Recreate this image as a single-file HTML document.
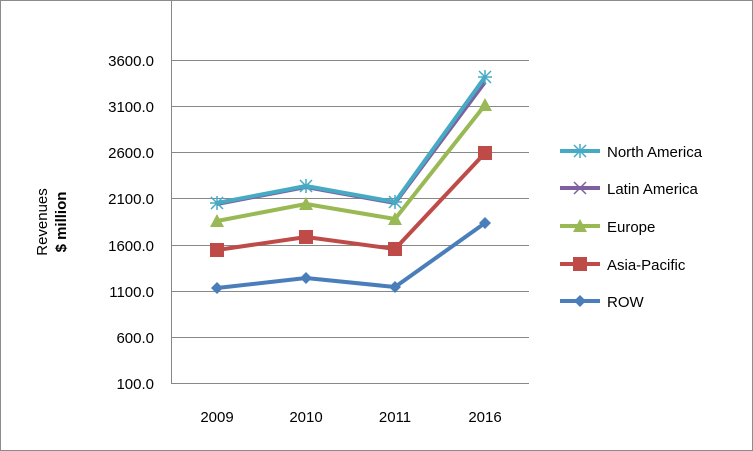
<!DOCTYPE html>
<html><head><style>
body{margin:0;background:#fff}
svg{display:block}
text{font-family:"Liberation Sans",sans-serif;fill:#000}
</style></head><body>
<svg width="753" height="451" viewBox="0 0 753 451">
<rect x="0.5" y="0.5" width="752" height="450" fill="#fff" stroke="#8c8c8c"/>
<g stroke="#888" stroke-width="1">
<line x1="171" y1="60.5" x2="529" y2="60.5"/>
<line x1="171" y1="106.5" x2="529" y2="106.5"/>
<line x1="171" y1="152.5" x2="529" y2="152.5"/>
<line x1="171" y1="198.5" x2="529" y2="198.5"/>
<line x1="171" y1="245.5" x2="529" y2="245.5"/>
<line x1="171" y1="291.5" x2="529" y2="291.5"/>
<line x1="171" y1="337.5" x2="529" y2="337.5"/>
<line x1="171" y1="383.5" x2="529" y2="383.5"/>
<line x1="171.5" y1="0" x2="171.5" y2="383"/>
</g>
<g font-size="15" text-anchor="end">
<text x="154" y="66">3600.0</text>
<text x="154" y="112">3100.0</text>
<text x="154" y="158">2600.0</text>
<text x="154" y="204">2100.0</text>
<text x="154" y="251">1600.0</text>
<text x="154" y="297">1100.0</text>
<text x="154" y="343">600.0</text>
<text x="154" y="389">100.0</text>
</g>
<g font-size="15" text-anchor="middle">
<text x="217" y="422">2009</text>
<text x="306" y="422">2010</text>
<text x="395" y="422">2011</text>
<text x="485" y="422">2016</text>
</g>
<text transform="translate(47,222) rotate(-90)" font-size="15" text-anchor="middle">Revenues</text>
<text transform="translate(66,222) rotate(-90)" font-size="15" font-weight="bold" text-anchor="middle">$ million</text>
<g fill="none" stroke-width="4" stroke-linejoin="round">
<polyline stroke="#4a7ebb" points="217,288 306,278 395,287 485,223"/>
<polyline stroke="#be4b48" points="217,250 306,237 395,249 485,153"/>
<polyline stroke="#98b954" points="217,221 306,204 395,219 485,105"/>
<polyline stroke="#7d60a0" points="217,204 306,187 395,203 485,82"/>
<polyline stroke="#46aac5" points="217,203 306,186 395,202 485,77"/>
</g>
<g fill="#4a7ebb">
<polygon points="217,282 223,288 217,294 211,288"/><polygon points="306,272 312,278 306,284 300,278"/><polygon points="395,281 401,287 395,293 389,287"/><polygon points="485,217 491,223 485,229 479,223"/>
</g>
<g fill="#be4b48">
<rect x="210" y="243" width="14" height="14"/><rect x="299" y="230" width="14" height="14"/><rect x="388" y="242" width="14" height="14"/><rect x="478" y="146" width="14" height="14"/>
</g>
<g fill="#98b954">
<polygon points="217,214 224,227 210,227"/><polygon points="306,197 313,210 299,210"/><polygon points="395,212 402,225 388,225"/><polygon points="485,98 492,111 478,111"/>
</g>
<g stroke="#46aac5" stroke-width="1.5">
<path d="M211,197l12,12M223,197l-12,12M217,196v14M210,203h14"/>
<path d="M300,180l12,12M312,180l-12,12M306,179v14M299,186h14"/>
<path d="M389,196l12,12M401,196l-12,12M395,195v14M388,202h14"/>
<path d="M479,71l12,12M491,71l-12,12M485,70v14M478,77h14"/>
</g>
<g stroke-width="4">
<line x1="560" y1="151" x2="600" y2="151" stroke="#46aac5"/>
<line x1="560" y1="188" x2="600" y2="188" stroke="#7d60a0"/>
<line x1="560" y1="226" x2="600" y2="226" stroke="#98b954"/>
<line x1="560" y1="264" x2="600" y2="264" stroke="#be4b48"/>
<line x1="560" y1="301" x2="600" y2="301" stroke="#4a7ebb"/>
</g>
<path d="M574,145l12,12M586,145l-12,12M580,144v14M573,151h14" stroke="#46aac5" stroke-width="1.5"/>
<path d="M574,182l12,12M586,182l-12,12" stroke="#7d60a0" stroke-width="1.5"/>
<polygon points="580,219 587,232 573,232" fill="#98b954"/>
<rect x="573" y="257" width="14" height="14" fill="#be4b48"/>
<polygon points="580,295 586,301 580,307 574,301" fill="#4a7ebb"/>
<g font-size="15">
<text x="607" y="157">North America</text>
<text x="607" y="194">Latin America</text>
<text x="607" y="232">Europe</text>
<text x="607" y="270">Asia-Pacific</text>
<text x="607" y="307">ROW</text>
</g>
</svg>
</body></html>
